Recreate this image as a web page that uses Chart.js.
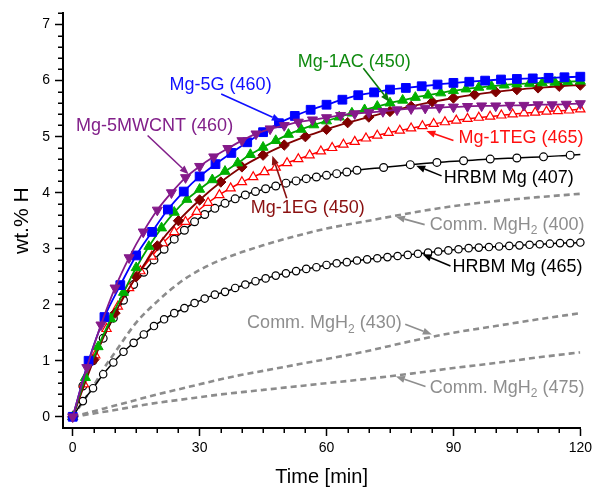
<!DOCTYPE html>
<html><head><meta charset="utf-8">
<script src="https://cdn.jsdelivr.net/npm/chart.js@4.4.1/dist/chart.umd.min.js"></script>
<style>html,body{margin:0;padding:0;background:#fff;}canvas{display:block;}</style>
</head><body>
<canvas id="c" width="596" height="491"></canvas>
<script>
const FONT = '"Liberation Sans", Arial, Helvetica, sans-serif';

// tick labels
const xTickLabels = [0, 30, 60, 90, 120];
const yTickLabels = [0, 1, 2, 3, 4, 5, 6, 7];

// Mg-5G (460)
const t5G = [0,3.75,7.5,11.25,15,18.75,22.5,26.25,30,33.75,37.5,41.25,45,48.75,52.5,56.25,60,63.75,67.5,71.25,75,78.75,82.5,86.25,90,93.75,97.5,101.25,105,108.75,112.5,116.25,120];
const v5G = [0,1.0,1.78,2.35,2.88,3.3,3.7,4.02,4.29,4.51,4.71,4.9,5.08,5.24,5.37,5.48,5.57,5.66,5.74,5.79,5.84,5.87,5.9,5.93,5.96,5.98,6.0,6.02,6.03,6.04,6.05,6.06,6.07];

// Mg-5MWCNT (460)
const tCNT = [0,3.33,6.67,10,13.33,16.67,20,23.33,26.67,30,33.33,36.67,40,43.33,46.67,50,53.33,56.67,60,63.33,66.67,70,73.33,76.67,80,83.33,86.67,90,93.33,96.67,100,103.33,106.67,110,113.33,116.67,120];
const vCNT = [0,0.88,1.64,2.3,2.84,3.3,3.69,4.0,4.27,4.47,4.64,4.79,4.93,5.05,5.14,5.2,5.26,5.3,5.34,5.38,5.41,5.43,5.45,5.48,5.5,5.51,5.52,5.53,5.54,5.55,5.55,5.56,5.56,5.57,5.57,5.58,5.59];

// Mg-1AC (450)
const tAC = [0,3,6,9,12,15,18,21,24,27,30,33,36,39,42,45,48,51,54,57,60,63,66,69,72,75,78,81,84,87,90,93,96,99,102,105,108,111,114,117,120];
const vAC = [0,0.7,1.25,1.75,2.22,2.66,3.04,3.37,3.65,3.88,4.06,4.23,4.38,4.53,4.68,4.81,4.93,5.04,5.13,5.21,5.28,5.35,5.42,5.48,5.54,5.6,5.65,5.7,5.74,5.78,5.82,5.85,5.88,5.9,5.92,5.94,5.95,5.96,5.97,5.98,5.99];

// Mg-1EG (450)
const tEG = [0,5,10,15,20,25,30,35,40,45,50,55,60,65,70,75,80,85,90,95,100,105,110,115,120];
const vEG = [0,1.02,1.85,2.5,3.05,3.5,3.87,4.19,4.46,4.67,4.85,5.0,5.13,5.25,5.35,5.45,5.54,5.62,5.69,5.75,5.8,5.84,5.87,5.9,5.92];

// Mg-1TEG (465)
const tTEG = [0,2.67,5.33,8,10.67,13.33,16,18.67,21.33,24,26.67,29.33,32,34.67,37.33,40,42.67,45.33,48,50.67,53.33,56,58.67,61.33,64,66.67,69.33,72,74.67,77.33,80,82.67,85.33,88,90.67,93.33,96,98.67,101.33,104,106.67,109.33,112,114.67,117.33,120];
const vTEG = [0,0.58,1.1,1.57,1.97,2.3,2.6,2.86,3.1,3.3,3.48,3.66,3.82,3.96,4.08,4.19,4.28,4.37,4.45,4.53,4.6,4.67,4.74,4.8,4.86,4.91,4.97,5.02,5.07,5.11,5.15,5.19,5.23,5.26,5.29,5.32,5.34,5.36,5.38,5.4,5.42,5.43,5.45,5.46,5.47,5.49];

// HRBM Mg (407)
const tHR407 = [0,2.4,4.8,7.2,9.6,12,14.4,16.8,19.2,21.6,24,26.4,28.8,31.2,33.6,36,38.4,40.8,43.2,45.6,48,50.4,52.8,55.2,57.6,60,62.4,64.8,67.2,73.5,79.8,86.1,92.4,98.7,105,111.3,117.6,120];
const vHR407 = [0,0.55,1.0,1.4,1.76,2.08,2.36,2.58,2.8,2.99,3.17,3.33,3.48,3.61,3.72,3.81,3.89,3.96,4.02,4.07,4.12,4.17,4.21,4.25,4.28,4.31,4.34,4.37,4.40,4.45,4.5,4.54,4.57,4.6,4.62,4.64,4.67,4.68];

// HRBM Mg (465)
const tHR465 = [0,2.4,4.8,7.2,9.6,12,14.4,16.8,19.2,21.6,24,26.4,28.8,31.2,33.6,36,38.4,40.8,43.2,45.6,48,50.4,52.8,55.2,57.6,60,62.4,64.8,67.2,69.6,72,74.4,76.8,79.2,81.6,84,86.4,88.8,91.2,93.6,96,98.4,100.8,103.2,105.6,108,110.4,112.8,115.2,117.6,120];
const vHR465 = [0,0.28,0.51,0.76,0.97,1.16,1.32,1.47,1.62,1.74,1.85,1.94,2.03,2.11,2.18,2.23,2.3,2.36,2.42,2.47,2.52,2.56,2.6,2.64,2.67,2.71,2.74,2.76,2.79,2.81,2.83,2.85,2.87,2.89,2.91,2.93,2.95,2.97,2.99,3.01,3.02,3.03,3.04,3.05,3.06,3.07,3.08,3.09,3.1,3.1,3.11];

// Comm. MgH2 (400), (430), (475)
const tComm = [0,2.5,5,7.5,10,15,20,25,30,35,40,45,50,55,60,70,80,90,100,110,120];
const vC400 = [0,0.28,0.56,0.88,1.15,1.68,2.06,2.38,2.62,2.8,2.94,3.06,3.17,3.27,3.36,3.5,3.64,3.76,3.85,3.92,3.98];
const vC430 = [0,0.05,0.1,0.15,0.2,0.3,0.4,0.49,0.58,0.67,0.75,0.82,0.89,0.96,1.03,1.18,1.35,1.5,1.62,1.74,1.85];
const vC475 = [0,0.03,0.06,0.09,0.12,0.19,0.25,0.3,0.35,0.4,0.44,0.48,0.52,0.56,0.6,0.68,0.77,0.87,0.96,1.06,1.15];

function pts(t, v) { return t.map((x, i) => ({x: x, y: v[i]})); }

const BLUE = '#0000ff', GREEN = '#00b000', MAROON = '#800000', PURPLE = '#851a8a', RED = '#ff0000', GRAY = '#8c8c8c';

function marked(label, t, v, color, style, radius, opts) {
  return Object.assign({
    label: label, data: pts(t, v), borderColor: color, backgroundColor: color,
    borderWidth: 1.8, pointStyle: style, pointRadius: radius, pointBorderColor: color,
    pointBackgroundColor: color, pointBorderWidth: 1, cubicInterpolationMode: 'monotone',
    fill: false, clip: false
  }, opts || {});
}
function dashed(label, v) {
  return {label: label, data: pts(tComm, v), borderColor: GRAY, borderWidth: 2.6,
    borderDash: [6, 4], pointRadius: 0, cubicInterpolationMode: 'monotone', fill: false};
}

const datasets = [
  marked('Mg-5MWCNT (460)', tCNT, vCNT, PURPLE, 'triangle', 5.8, {pointRotation: 180}),
  marked('Mg-5G (460)', t5G, v5G, BLUE, 'rect', 6.2),
  marked('Mg-1AC (450)', tAC, vAC, GREEN, 'triangle', 5.8, {borderColor: '#00a000'}),
  marked('Mg-1EG (450)', tEG, vEG, MAROON, 'rectRot', 5.2),
  marked('Mg-1TEG (465)', tTEG, vTEG, RED, 'triangle', 5.3, {pointBackgroundColor: '#fff', pointBorderWidth: 1.2, borderWidth: 1.5}),
  marked('HRBM Mg (407)', tHR407, vHR407, '#000', 'circle', 3.9, {
    pointBackgroundColor: '#fff', pointBorderWidth: 1.2, borderWidth: 1.5,
    pointRadius: ctx => ctx.dataIndex === tHR407.length - 1 ? 0 : 3.9}),
  marked('HRBM Mg (465)', tHR465, vHR465, '#000', 'circle', 3.7, {pointBackgroundColor: '#fff', pointBorderWidth: 1.2, borderWidth: 1.5}),
  dashed('Comm. MgH2 (400)', vC400),
  dashed('Comm. MgH2 (430)', vC430),
  dashed('Comm. MgH2 (475)', vC475)
];

// text annotations (data coordinates)
const notes = [
  {parts: [['Mg-5G (460)']], color: '#1010ff', at: [22.9, 5.93], align: 'left', arrow: [[35.1, 5.76], [49.2, 5.28]]},
  {parts: [['Mg-5MWCNT (460)']], color: '#82208a', at: [0.8, 5.19], align: 'left', arrow: [[17.7, 5.02], [27.4, 4.33]]},
  {parts: [['Mg-1AC (450)']], color: '#108a10', at: [53.2, 6.34], align: 'left', arrow: [[68.7, 6.22], [74.9, 5.62]], acolor: '#0a7a0a'},
  {parts: [['Mg-1TEG (465)']], color: '#ff1010', at: [91.2, 4.97], align: 'left', arrow: [[90.0, 4.93], [83.6, 5.1]]},
  {parts: [['HRBM Mg (407)']], color: '#000', at: [87.7, 4.26], align: 'left', arrow: [[87.2, 4.3], [81.2, 4.48]]},
  {parts: [['Mg-1EG (450)']], color: '#8a1010', at: [42.1, 3.73], align: 'left', arrow: [[50.6, 3.9], [47.2, 4.66]]},
  {parts: [['Comm. MgH'], ['2', 1], [' (400)']], color: '#8e8e8e', at: [84.4, 3.43], align: 'left', arrow: [[83.2, 3.43], [76.4, 3.57]]},
  {parts: [['HRBM Mg (465)']], color: '#000', at: [89.8, 2.67], align: 'left', arrow: [[89.3, 2.69], [82.7, 2.9]]},
  {parts: [['Comm. MgH'], ['2', 1], [' (430)']], color: '#8e8e8e', at: [77.8, 1.67], align: 'right', arrow: [[78.6, 1.65], [84.9, 1.47]]},
  {parts: [['Comm. MgH'], ['2', 1], [' (475)']], color: '#8e8e8e', at: [84.4, 0.52], align: 'left', arrow: [[83.4, 0.54], [76.4, 0.72]]}
];

function drawArrow(ctx, x1, y1, x2, y2, color) {
  const ang = Math.atan2(y2 - y1, x2 - x1), L = 9, W = 3.6;
  const bx = x2 - L * Math.cos(ang), by = y2 - L * Math.sin(ang);
  ctx.strokeStyle = color; ctx.fillStyle = color; ctx.lineWidth = 1.6;
  ctx.beginPath(); ctx.moveTo(x1, y1); ctx.lineTo(bx, by); ctx.stroke();
  ctx.beginPath(); ctx.moveTo(x2, y2);
  ctx.lineTo(bx - W * Math.sin(ang), by + W * Math.cos(ang));
  ctx.lineTo(bx + W * Math.sin(ang), by - W * Math.cos(ang));
  ctx.closePath(); ctx.fill();
}

const notesPlugin = {
  id: 'notes',
  afterDatasetsDraw(chart) {
    const {ctx, scales: {x, y}} = chart;
    ctx.save();
    ctx.textBaseline = 'middle';
    for (const n of notes) {
      const px = x.getPixelForValue(n.at[0]), py = y.getPixelForValue(n.at[1]);
      let w = 0;
      for (const p of n.parts) { ctx.font = (p[1] ? '12px ' : '18px ') + FONT; w += ctx.measureText(p[0]).width; }
      let sx = n.align === 'right' ? px - w : px;
      ctx.fillStyle = n.color;
      ctx.textAlign = 'left';
      for (const p of n.parts) {
        ctx.font = (p[1] ? '12px ' : '18px ') + FONT;
        ctx.fillText(p[0], sx, py + (p[1] ? 6 : 0));
        sx += ctx.measureText(p[0]).width;
      }
      const a = n.arrow;
      drawArrow(ctx, x.getPixelForValue(a[0][0]), y.getPixelForValue(a[0][1]),
        x.getPixelForValue(a[1][0]), y.getPixelForValue(a[1][1]), n.acolor || n.color);
    }
    ctx.restore();
  }
};

const minorTicksPlugin = {
  id: 'minorTicks',
  afterDraw(chart) {
    const {ctx, scales: {x, y}, chartArea} = chart;
    ctx.save();
    ctx.strokeStyle = '#000'; ctx.lineWidth = 1.5;
    ctx.beginPath();
    for (let v = 5; v < 120; v += 5) {
      if (v % 30 === 0) continue;
      const px = Math.round(x.getPixelForValue(v)) + 0.25;
      ctx.moveTo(px, chartArea.bottom); ctx.lineTo(px, chartArea.bottom + 5);
    }
    for (let k = 1; k <= 36; k++) {
      if (k % 5 === 0) continue;
      const py = Math.round(y.getPixelForValue(k / 5)) + 0.25;
      ctx.moveTo(chartArea.left, py); ctx.lineTo(chartArea.left - 5, py);
    }
    ctx.stroke();
    ctx.restore();
  }
};

new Chart(document.getElementById('c'), {
  type: 'line',
  data: {datasets: datasets},
  options: {
    responsive: false, animation: false, devicePixelRatio: 1,
    layout: {autoPadding: false, padding: {left: 0, right: 13, top: 8, bottom: 0}},
    plugins: {legend: {display: false}, tooltip: {enabled: false}},
    elements: {line: {tension: 0}},
    scales: {
      x: {
        type: 'linear', min: -2.3, max: 120,
        afterBuildTicks: s => { s.ticks = xTickLabels.map(v => ({value: v})); },
        afterFit: s => { s.height = 63; },
        grid: {display: true, drawOnChartArea: false, drawTicks: true, tickLength: 8, tickColor: '#000', tickWidth: 1.5},
        border: {display: true, color: '#000', width: 2},
        ticks: {color: '#000', font: {family: FONT, size: 14}, padding: 4, maxRotation: 0, autoSkip: false},
        title: {display: true, text: 'Time [min]', color: '#000', font: {family: FONT, size: 20}, padding: {top: 0, bottom: 2}}
      },
      y: {
        type: 'linear', min: -0.2, max: 7.2,
        afterBuildTicks: s => { s.ticks = yTickLabels.map(v => ({value: v})); },
        afterFit: s => { s.width = 63; },
        grid: {display: true, drawOnChartArea: false, drawTicks: true, tickLength: 8, tickColor: '#000', tickWidth: 1.5},
        border: {display: true, color: '#000', width: 2},
        ticks: {color: '#000', font: {family: FONT, size: 14}, padding: 5, autoSkip: false},
        title: {display: true, text: 'wt.% H', color: '#000', font: {family: FONT, size: 21}, padding: {top: 10, bottom: 0}}
      }
    }
  },
  plugins: [minorTicksPlugin, notesPlugin]
});
</script>
</body></html>
